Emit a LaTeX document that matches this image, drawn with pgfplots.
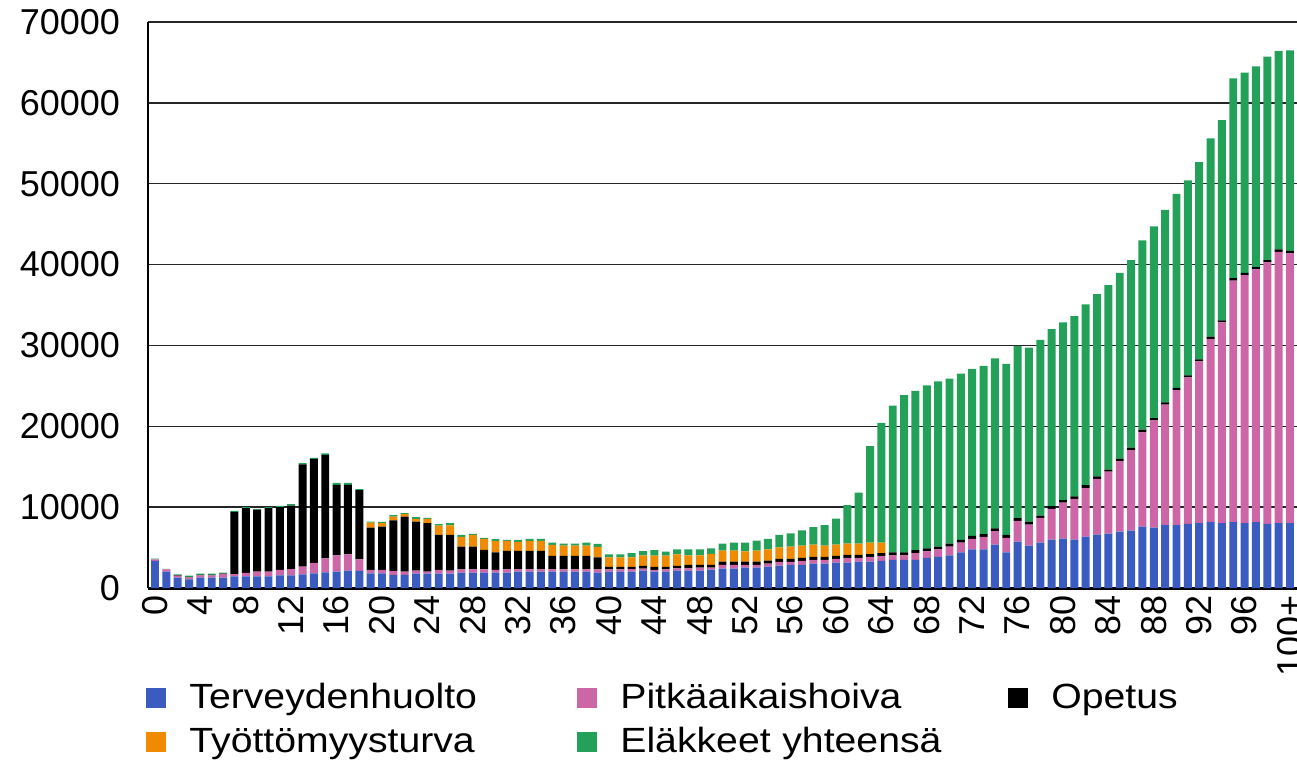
\documentclass[border=0pt]{standalone}
\usepackage{pgfplots}
\pgfplotsset{compat=1.18}
\usepackage{pgfplotstable}
\usepackage{fontspec}
\setmainfont{Liberation Sans}
\newfontfamily\legfont[FakeStretch=1.12]{Liberation Sans}
\definecolor{cblue}{RGB}{58,92,192}
\definecolor{cpink}{RGB}{204,102,166}
\definecolor{cgreen}{RGB}{35,161,88}
\definecolor{corange}{RGB}{240,138,0}
\pgfplotstableread{
x b p k o g
0 3350 200 0 0 80
1 2020 290 0 0 70
2 1280 250 50 0 100
3 1070 250 50 0 150
4 1280 290 50 0 160
5 1280 290 50 0 160
6 1280 450 50 0 120
7 1450 280 7690 0 120
8 1450 410 8010 0 130
9 1450 570 7680 0 90
10 1450 570 7850 0 130
11 1570 660 7760 0 170
12 1570 780 7850 0 170
13 1690 950 12640 0 170
14 1820 1280 12880 0 120
15 1940 1740 12800 0 160
16 2020 2030 8710 0 250
17 2150 2020 8590 0 250
18 2110 1440 8550 0 120
19 1820 410 5250 610 130
20 1820 410 5370 410 170
21 1630 500 6220 480 170
22 1610 410 6820 290 120
23 1780 370 6070 330 210
24 1780 240 5990 540 120
25 1780 450 4340 1150 170
26 1780 370 4420 1190 250
27 1900 410 2810 1200 250
28 1900 410 2810 1410 160
29 1900 410 2400 1360 130
30 1900 330 2190 1400 210
31 1900 410 2270 1240 130
32 2020 290 2270 1120 250
33 2020 290 2270 1240 250
34 2020 290 2270 1240 250
35 2020 290 1650 1370 290
36 2020 290 1650 1290 240
37 2020 290 1650 1290 240
38 2020 290 1650 1290 370
39 1900 410 1490 1280 370
40 2020 290 290 1200 370
41 2020 290 290 1200 370
42 2020 330 250 1200 500
43 2150 250 330 1320 500
44 2020 210 370 1410 660
45 2020 290 290 1410 490
46 2150 290 290 1440 620
47 2150 290 410 1200 740
48 2150 370 330 1200 740
49 2270 250 330 1360 700
50 2400 450 410 1370 860
51 2400 450 410 1370 990
52 2520 330 410 1280 1080
53 2520 330 410 1370 1230
54 2640 370 380 1400 1280
55 2770 450 370 1450 1530
56 2850 370 370 1530 1650
57 2850 500 370 1530 1890
58 3010 460 370 1530 2150
59 3010 460 370 1410 2520
60 3140 450 370 1410 3220
61 3140 580 370 1400 4750
62 3260 460 370 1400 6320
63 3260 580 350 1410 11950
64 3370 590 360 1280 14820
65 3470 580 370 0 18150
66 3470 580 370 0 19450
67 3470 830 370 0 19700
68 3720 820 370 0 20160
69 3840 950 330 0 20440
70 4050 1070 370 0 20410
71 4420 1200 330 0 20560
72 4790 1280 370 0 20650
73 4790 1530 330 0 20810
74 5370 1650 370 0 21020
75 4420 1780 370 0 21140
76 5740 2560 330 0 21310
77 5250 2600 370 0 21520
78 5620 3050 290 0 21730
79 5990 3800 330 0 21890
80 6100 4460 300 0 22000
81 5980 5040 300 0 22300
82 6360 5990 370 0 22350
83 6590 6910 320 0 22540
84 6730 7650 270 0 22810
85 6960 8710 320 0 22990
86 7100 9950 320 0 23180
87 7600 11660 320 0 23410
88 7460 13280 270 0 23730
89 7790 14880 280 0 23820
90 7790 16680 270 0 24010
91 7930 18110 270 0 24100
92 8020 20000 270 0 24380
93 8160 22620 320 0 24520
94 8020 24830 240 0 24790
95 8160 29860 320 0 24700
96 8020 30690 270 0 24750
97 8160 31240 270 0 24840
98 7930 32340 280 0 25160
99 8020 33540 330 0 24510
100 8020 33360 320 0 24790
}\data
\begin{document}
\begin{tikzpicture}
\begin{axis}[
  at={(0,0)}, anchor=south west,
  scale only axis, width=574.5pt, height=283pt,
  xmin=-0.617, xmax=100.617, ymin=0, ymax=70000,
  ybar stacked, bar width=0.7,
  axis x line*=bottom, axis y line*=left,
  x axis line style={line width=1.5pt},
  y axis line style={line width=1pt},
  ymajorgrids, grid style={black!85, line width=0.75pt},
  ytick={0,10000,20000,30000,40000,50000,60000,70000},
  major tick length=0pt,
  xtick={0,4,...,100},
  xticklabels={0,4,8,12,16,20,24,28,32,36,40,44,48,52,56,60,64,68,72,76,80,84,88,92,96,100+},
  scaled y ticks=false,
  /pgf/number format/1000 sep={},
  /pgf/number format/assume math mode=true,
  ticklabel style={font=\fontsize{18}{21}\selectfont},
  yticklabel style={xshift=-10.5pt},
  xticklabel style={rotate=90, anchor=east},
  legend columns=3,
  legend cell align=left,
  legend style={at={(axis description cs:0,0)}, anchor=north west, xshift=-1pt, yshift=-45.85pt,
    draw=none, fill=none, inner sep=0pt, font=\legfont\fontsize{17.5}{21}\selectfont,
    /tikz/every odd column/.append style={column sep=10.5pt},
    nodes={inner sep=1pt, text height=13pt, text depth=4pt, text width=193pt, align=left},
    row sep=3pt},
  legend image code/.code={\fill[#1] (0pt,-4.5pt) rectangle (10pt,5.5pt);},
]
\addplot[fill=cblue, draw=none] table[x=x, y=b] {\data};
\addlegendentry{Terveydenhuolto}
\addplot[fill=cpink, draw=none] table[x=x, y=p] {\data};
\addlegendentry{Pitkäaikaishoiva}
\addplot[fill=black, draw=none] table[x=x, y=k] {\data};
\addlegendentry{Opetus}
\addplot[fill=corange, draw=none] table[x=x, y=o] {\data};
\addlegendentry{Työttömyysturva}
\addplot[fill=cgreen, draw=none] table[x=x, y=g] {\data};
\addlegendentry{Eläkkeet yhteensä}
\end{axis}
\pgfresetboundingbox
\path[use as bounding box] (-74pt,-87pt) rectangle (574.5pt,294pt);
\end{tikzpicture}
\end{document}
